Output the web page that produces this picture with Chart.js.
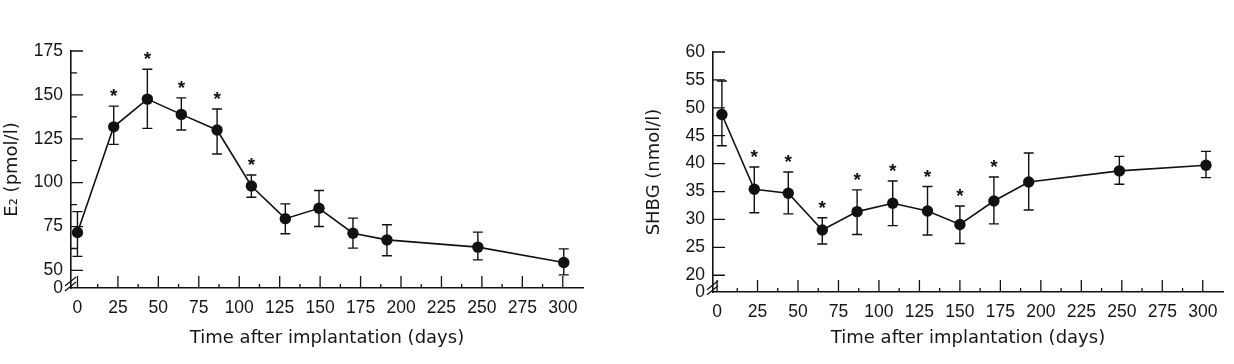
<!DOCTYPE html>
<html>
<head>
<meta charset="utf-8">
<script src="https://cdn.jsdelivr.net/npm/chart.js@4.4.0/dist/chart.umd.min.js"></script>
<style>
    html, body { margin: 0; padding: 0; background: #fff; }
    #wrap { position: relative; width: 1234px; height: 364px; }
    canvas { position: absolute; top: 0; }
</style>
</head>
<body>
<div id="wrap">
    <canvas id="chartE2" width="617" height="364" style="left:0"></canvas>
    <canvas id="chartShbg" width="617" height="364" style="left:617px"></canvas>
</div>
<script>
    // shared x axis
    var dayTicks = [0, 25, 50, 75, 100, 125, 150, 175, 200, 225, 250, 275, 300];
    var dayMinor = [12.5, 37.5, 62.5, 87.5, 112.5, 137.5, 162.5, 187.5, 212.5, 237.5, 262.5, 287.5];

    // left panel: E2 (pmol/l)
    var e2Days = [0, 22.4, 43.2, 64.2, 86.3, 107.5, 128.5, 149.3, 170.3, 191.3, 247.5, 300.6];
    var e2Mean = [71.6, 131.8, 147.6, 138.9, 130, 98.1, 79.5, 85.4, 71.2, 67.4, 63.3, 54.5];
    var e2Upper = [83.5, 143.6, 164.6, 148.3, 142, 104.4, 87.9, 95.5, 79.8, 76, 71.8, 62.3];
    var e2Lower = [58, 121.8, 130.9, 130, 116.3, 91.7, 70.9, 75, 62.7, 58.4, 56, 47.5];
    var e2Stars = [1, 2, 3, 4, 5];
    var e2Ticks = [40, 50, 75, 100, 125, 150, 175];
    var e2Minor = [62.5, 87.5, 112.5, 137.5, 162.5];

    // right panel: SHBG (nmol/l)
    var shbgDays = [3, 23, 44, 65, 86.5, 108.5, 130, 150, 171, 192.5, 248.5, 302];
    var shbgMean = [48.8, 35.4, 34.7, 28.1, 31.4, 32.9, 31.5, 29.1, 33.3, 36.7, 38.7, 39.7];
    var shbgUpper = [54.8, 39.4, 38.5, 30.3, 35.3, 36.9, 35.9, 32.4, 37.6, 41.9, 41.3, 42.2];
    var shbgLower = [43.2, 31.2, 31, 25.6, 27.3, 28.9, 27.2, 25.7, 29.2, 31.7, 36.3, 37.5];
    var shbgStars = [1, 2, 3, 4, 5, 6, 7, 8];
    var shbgTicks = [17, 20, 25, 30, 35, 40, 45, 50, 55, 60];
    var shbgMinor = [];

    var ink = '#111';
    var textInk = '#161616';
    var tickFont = { family: '"Liberation Sans", Arial, sans-serif', size: 17.5 };
    var titleFont = { family: '"DejaVu Sans", sans-serif', size: 18 };

    function seg(ctx, x1, y1, x2, y2) {
        ctx.moveTo(x1, y1);
        ctx.lineTo(x2, y2);
    }

    var decorPlugin = {
        id: 'decor',
        beforeDatasetsDraw: function (chart, args, opts) {
            // error bars under the points
            var ctx = chart.ctx, xs = chart.scales.x, ys = chart.scales.y;
            ctx.save();
            ctx.strokeStyle = ink;
            ctx.lineWidth = 1.4;
            ctx.beginPath();
            opts.days.forEach(function (d, i) {
                var x = xs.getPixelForValue(d);
                var yt = ys.getPixelForValue(opts.upper[i]);
                var yb = ys.getPixelForValue(opts.lower[i]);
                seg(ctx, x, yt, x, yb);
                seg(ctx, x - 5, yt, x + 5, yt);
                seg(ctx, x - 5, yb, x + 5, yb);
            });
            ctx.stroke();
            ctx.restore();
        },
        afterDraw: function (chart, args, opts) {
            var ctx = chart.ctx, xs = chart.scales.x, ys = chart.scales.y;
            var area = chart.chartArea;
            ctx.save();
            ctx.strokeStyle = ink;
            ctx.lineWidth = 1.3;
            ctx.beginPath();
            // inward ticks
            dayTicks.forEach(function (d) {
                var x = xs.getPixelForValue(d);
                seg(ctx, x, area.bottom, x, area.bottom - 12);
            });
            dayMinor.forEach(function (d) {
                var x = xs.getPixelForValue(d);
                seg(ctx, x, area.bottom, x, area.bottom - 4);
            });
            opts.yTicks.slice(1).forEach(function (v) {
                var y = ys.getPixelForValue(v);
                seg(ctx, area.left, y, area.left + 12, y);
            });
            opts.yMinor.forEach(function (v) {
                var y = ys.getPixelForValue(v);
                seg(ctx, area.left, y, area.left + 6, y);
            });
            // axis break
            var yb = ys.getPixelForValue(opts.breakAt);
            seg(ctx, area.left - 6, yb + 5, area.left + 5, yb - 4);
            seg(ctx, area.left - 6, yb + 10, area.left + 5, yb + 1);
            ctx.stroke();
            // significance stars
            ctx.fillStyle = ink;
            ctx.font = 'bold 19px "Liberation Sans", Arial, sans-serif';
            ctx.textAlign = 'center';
            ctx.textBaseline = 'alphabetic';
            opts.stars.forEach(function (i) {
                var x = xs.getPixelForValue(opts.days[i]);
                var y = ys.getPixelForValue(opts.upper[i]);
                ctx.fillText('*', x, y - 4);
            });
            ctx.restore();
        }
    };

    function makeChart(id, cfg) {
        var points = cfg.days.map(function (d, i) {
            return { x: d, y: cfg.mean[i] };
        });
        return new Chart(document.getElementById(id), {
            type: 'line',
            data: {
                datasets: [{
                    data: points,
                    borderColor: ink,
                    borderWidth: 1.6,
                    pointRadius: 5.7,
                    pointBackgroundColor: ink,
                    pointBorderWidth: 0,
                    tension: 0,
                    clip: false
                }]
            },
            options: {
                responsive: false,
                animation: false,
                devicePixelRatio: 1,
                layout: { padding: cfg.padding },
                plugins: {
                    legend: { display: false },
                    tooltip: { enabled: false },
                    decor: {
                        days: cfg.days,
                        upper: cfg.upper,
                        lower: cfg.lower,
                        stars: cfg.stars,
                        yTicks: cfg.yTicks,
                        yMinor: cfg.yMinor,
                        breakAt: cfg.breakAt
                    }
                },
                scales: {
                    x: {
                        type: 'linear',
                        min: cfg.xMin,
                        max: 312.5,
                        afterBuildTicks: function (s) {
                            s.ticks = dayTicks.map(function (v) { return { value: v }; });
                        },
                        afterFit: function (s) { s.height = cfg.xHeight; },
                        grid: { display: false, drawTicks: false },
                        border: { display: true, color: ink, width: 1.6 },
                        ticks: { autoSkip: false, maxRotation: 0, padding: 10, color: textInk, font: tickFont },
                        title: {
                            display: true,
                            text: 'Time after implantation (days)',
                            color: textInk,
                            font: titleFont,
                            padding: { top: 0, bottom: 15 }
                        }
                    },
                    y: {
                        type: 'linear',
                        min: cfg.yTicks[0],
                        max: cfg.yTicks[cfg.yTicks.length - 1],
                        afterBuildTicks: function (s) {
                            s.ticks = cfg.yTicks.map(function (v) { return { value: v }; });
                        },
                        afterFit: function (s) { s.width = cfg.yWidth; },
                        grid: { display: false, drawTicks: false },
                        border: { display: true, color: ink, width: 1.6 },
                        ticks: {
                            autoSkip: false,
                            padding: 8,
                            color: textInk,
                            font: tickFont,
                            callback: function (v) { return v === cfg.yTicks[0] ? '0' : v; }
                        },
                        title: {
                            display: true,
                            text: cfg.yTitle,
                            color: textInk,
                            font: titleFont,
                            padding: { top: cfg.yTitlePad, bottom: 0 }
                        }
                    }
                }
            },
            plugins: [decorPlugin]
        });
    }

    makeChart('chartE2', {
        days: e2Days, mean: e2Mean, upper: e2Upper, lower: e2Lower, stars: e2Stars,
        yTicks: e2Ticks, yMinor: e2Minor, breakAt: 44,
        yTitle: 'E\u2082 (pmol/l)', yTitlePad: 2,
        xMin: -4, yWidth: 71, xHeight: 76,
        padding: { left: 0, right: 34, top: 51, bottom: 0 }
    });

    makeChart('chartShbg', {
        days: shbgDays, mean: shbgMean, upper: shbgUpper, lower: shbgLower, stars: shbgStars,
        yTicks: shbgTicks, yMinor: shbgMinor, breakAt: 18.3,
        yTitle: 'SHBG (nmol/l)', yTitlePad: 27,
        xMin: -2.5, yWidth: 96, xHeight: 72,
        padding: { left: 0, right: 11, top: 52, bottom: 0 }
    });
</script>
</body>
</html>
